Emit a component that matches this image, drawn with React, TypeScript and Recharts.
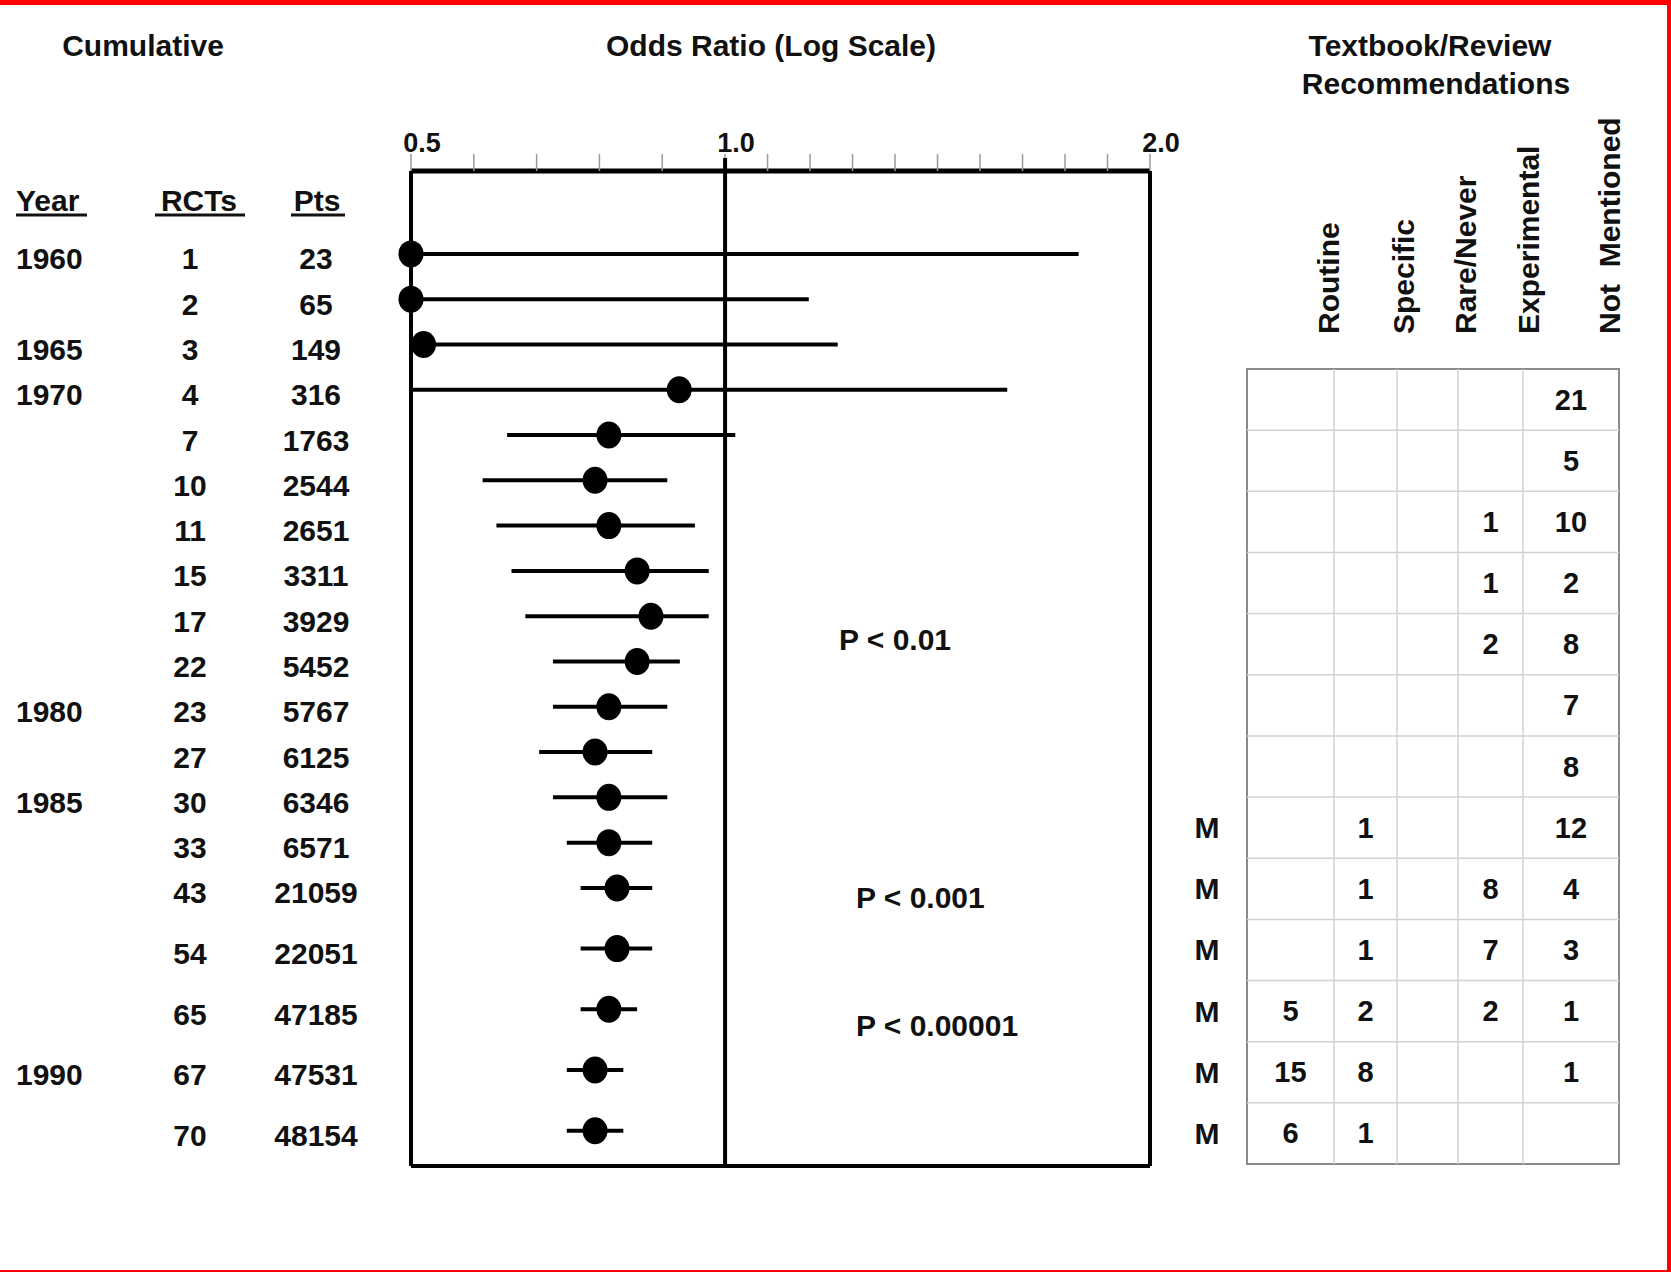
import React from 'react';
import {
    ScatterChart,
    Scatter,
    XAxis,
    YAxis,
    ErrorBar,
    ReferenceLine,
    ReferenceArea,
} from 'recharts';

const FONT = '"Liberation Sans", Arial, Helvetica, sans-serif';
const INK = '#111';

// cumulative trials, oldest first
const YEARS = ['1960', '', '1965', '1970', '', '', '', '', '', '', '1980', '', '1985', '', '', '', '', '1990', ''];
const RCTS = [1, 2, 3, 4, 7, 10, 11, 15, 17, 22, 23, 27, 30, 33, 43, 54, 65, 67, 70];
const PATIENTS = [23, 65, 149, 316, 1763, 2544, 2651, 3311, 3929, 5452, 5767, 6125, 6346, 6571, 21059, 22051, 47185, 47531, 48154];
const ODDS_RATIO = [0.5, 0.5, 0.52, 0.927, 0.815, 0.793, 0.815, 0.86, 0.882, 0.86, 0.815, 0.793, 0.815, 0.815, 0.828, 0.828, 0.815, 0.793, 0.793];
const CI_LOW = [0.5, 0.5, 0.52, 0.5, 0.653, 0.614, 0.636, 0.66, 0.682, 0.726, 0.726, 0.704, 0.726, 0.748, 0.77, 0.77, 0.77, 0.748, 0.748];
const CI_HIGH = [1.832, 1.197, 1.265, 1.664, 1.024, 0.908, 0.952, 0.974, 0.974, 0.928, 0.908, 0.884, 0.908, 0.884, 0.884, 0.884, 0.86, 0.838, 0.838];

// odds ratio axis
const AXIS_TICKS = [0.5, 0.6, 0.7, 0.8, 0.9, 1.0, 1.1, 1.2, 1.3, 1.4, 1.5, 1.6, 1.7, 1.8, 1.9, 2.0];
const AXIS_LABELS = [0.5, 1.0, 2.0];
const SIDE_LABELS = ['Favors Treatment', 'Favors Control'];
const SIDE_AT = [0.756, 1.466];
const P_NOTES = ['P < 0.01', 'P < 0.001', 'P < 0.00001'];

// textbook / review recommendations, one entry per table row
const REC_COLUMNS = ['Routine', 'Specific', 'Rare/Never', 'Experimental', 'Not  Mentioned'];
const ROUTINE = [null, null, null, null, null, null, null, null, null, null, 5, 15, 6];
const SPECIFIC = [null, null, null, null, null, null, null, 1, 1, 1, 2, 8, 1];
const RARE_NEVER = [null, null, null, null, null, null, null, null, null, null, null, null, null];
const EXPERIMENTAL = [null, null, 1, 1, 2, null, null, null, 8, 7, 2, null, null];
const NOT_MENTIONED = [21, 5, 10, 2, 8, 7, 8, 12, 4, 3, 1, 1, null];
const META_ANALYSIS = [false, false, false, false, false, false, false, true, true, true, true, true, true];

// the printed axis is not symmetric: 1.0 sits left of the middle
const LEFT_SHARE = 0.425;
const toAxis = (or: number) =>
    or <= 1 ? (LEFT_SHARE * (or - 0.5)) / 0.5 : LEFT_SHARE + (1 - LEFT_SHARE) * (or - 1);
// last four rows are spaced out a bit more
const rowSlot = (i: number) => (i < 15 ? i : 14 + (i - 14) * 1.34);

const rows = RCTS.map((n, i) => {
    const u = toAxis(ODDS_RATIO[i]);
    return { i, slot: rowSlot(i), u, err: [u - toAxis(CI_LOW[i]), toAxis(CI_HIGH[i]) - u] };
});

const COL_WIDTHS = [87, 63, 61, 65, 96];
const colEdges = COL_WIDTHS.reduce<number[]>((acc, w) => [...acc, acc[acc.length - 1] + w], [0]);
const colCenters = COL_WIDTHS.map((w, c) => colEdges[c] + w / 2);
const tableWidth = colEdges[colEdges.length - 1];
const REC_VALUES = [ROUTINE, SPECIFIC, RARE_NEVER, EXPERIMENTAL, NOT_MENTIONED];
const nRecRows = NOT_MENTIONED.length;
const cells = REC_VALUES.flatMap((col, c) =>
    col.map((v, r) => (v == null ? null : { x: colCenters[c], y: r + 0.5, label: v }))
).filter(Boolean) as { x: number; y: number; label: number }[];

const txt = { fontFamily: FONT, fontWeight: 700, fill: INK } as const;

const OrTick = (props: any) => {
    const { x, y, payload } = props;
    const or = AXIS_TICKS.find(t => Math.abs(toAxis(t) - payload.value) < 1e-9);
    if (or === undefined) return null;
    const showLabel = AXIS_LABELS.includes(or);
    return (
        <g>
            {or === 1 && <line x1={x} x2={x} y1={y + 6} y2={y + 19} stroke="#000" strokeWidth={4} />}
            {showLabel && (
                <text x={x + 11} y={y} textAnchor="middle" fontSize={27} {...txt}>
                    {or.toFixed(1)}
                </text>
            )}
        </g>
    );
};

const SideTick = (props: any) => {
    const { x, y, index } = props;
    return (
        <text x={x} y={y} textAnchor="middle" dominantBaseline="central" fontSize={30} {...txt}>
            {SIDE_LABELS[index]}
        </text>
    );
};

const RowTick = (props: any) => {
    const { y, payload } = props;
    const row = rows.find(r => Math.abs(r.slot - payload.value) < 1e-9);
    if (!row) return null;
    const ty = y + 5;
    return (
        <g fontSize={30} {...txt}>
            <text x={16} y={ty} dominantBaseline="central">{YEARS[row.i]}</text>
            <text x={190} y={ty} textAnchor="middle" dominantBaseline="central">{RCTS[row.i]}</text>
            <text x={316} y={ty} textAnchor="middle" dominantBaseline="central">{PATIENTS[row.i]}</text>
        </g>
    );
};

const HeaderTick = (props: any) => {
    const { x, y, payload } = props;
    const c = colCenters.findIndex(v => Math.abs(v - payload.value) < 1e-9);
    const hx = x + 38;
    return (
        <text
            x={hx}
            y={y}
            transform={`rotate(-90 ${hx} ${y})`}
            textAnchor="start"
            dominantBaseline="central"
            fontSize={30}
            style={{ whiteSpace: 'pre' }}
            {...txt}
        >
            {REC_COLUMNS[c]}
        </text>
    );
};

const MetaTick = (props: any) => {
    const { x, y } = props;
    return (
        <text x={x} y={y} textAnchor="middle" dominantBaseline="central" fontSize={30} {...txt}>
            M
        </text>
    );
};

function ForestPlot() {
    return (
        <ScatterChart width={1180} height={1274} margin={{ top: 100, right: 0, bottom: 48, left: 0 }}>
            <XAxis
                xAxisId="or"
                type="number"
                dataKey="u"
                orientation="top"
                domain={[0, 1]}
                ticks={AXIS_TICKS.map(toAxis)}
                interval={0}
                height={71}
                tickSize={17}
                tickMargin={2}
                tickLine={{ stroke: '#9a9a9a', strokeWidth: 1.5 }}
                axisLine={{ stroke: '#000', strokeWidth: 5 }}
                tick={<OrTick />}
            />
            <XAxis
                xAxisId="side"
                type="number"
                orientation="bottom"
                domain={[0, 1]}
                allowDataOverflow
                ticks={SIDE_AT.map(toAxis)}
                interval={0}
                height={60}
                tickSize={0}
                tickMargin={30}
                tickLine={false}
                axisLine={{ stroke: '#000', strokeWidth: 4 }}
                tick={<SideTick />}
            />
            <YAxis
                yAxisId="rows"
                type="number"
                dataKey="slot"
                domain={[-1.83, 20.14]}
                reversed
                ticks={rows.map(r => r.slot)}
                interval={0}
                width={411}
                tickLine={false}
                axisLine={{ stroke: '#000', strokeWidth: 4 }}
                tick={<RowTick />}
            />
            <YAxis
                yAxisId="edge"
                type="number"
                orientation="right"
                domain={[0, 1]}
                allowDataOverflow
                width={30}
                tick={false}
                tickLine={false}
                axisLine={{ stroke: '#000', strokeWidth: 4 }}
            />
            <ReferenceLine xAxisId="or" yAxisId="rows" x={toAxis(1)} stroke="#000" strokeWidth={4} />
            <Scatter
                xAxisId="or"
                yAxisId="rows"
                data={rows}
                isAnimationActive={false}
                shape={(p: any) => <ellipse cx={p.cx} cy={p.cy} rx={12.5} ry={13.5} fill="#000" />}
            >
                <ErrorBar dataKey="err" direction="x" width={0} stroke="#000" strokeWidth={4} isAnimationActive={false} />
            </Scatter>
        </ScatterChart>
    );
}

function RecommendationTable() {
    return (
        <ScatterChart width={511} height={1274} margin={{ top: 0, right: 52, bottom: 110, left: 0 }}>
            <XAxis
                type="number"
                dataKey="x"
                orientation="top"
                domain={[0, tableWidth]}
                ticks={colCenters}
                interval={0}
                height={369}
                tickSize={0}
                tickMargin={35}
                tickLine={false}
                axisLine={false}
                tick={<HeaderTick />}
            />
            <YAxis
                type="number"
                dataKey="y"
                domain={[0, nRecRows]}
                reversed
                ticks={META_ANALYSIS.map((m, r) => (m ? r + 0.5 : null)).filter(v => v !== null) as number[]}
                interval={0}
                width={87}
                tickSize={0}
                tickMargin={40}
                tickLine={false}
                axisLine={false}
                tick={<MetaTick />}
            />
            {colEdges.slice(1, -1).map(e => (
                <ReferenceLine key={`c${e}`} x={e} stroke="#d2d2d2" strokeWidth={1.5} />
            ))}
            {Array.from({ length: nRecRows - 1 }, (_, k) => k + 1).map(k => (
                <ReferenceLine key={`r${k}`} y={k} stroke="#d2d2d2" strokeWidth={1.5} />
            ))}
            <ReferenceArea x1={0} x2={tableWidth} y1={0} y2={nRecRows} fill="none" stroke="#8a8a8a" strokeWidth={2} />
            <Scatter
                data={cells}
                isAnimationActive={false}
                shape={(p: any) => (
                    <text x={p.cx} y={p.cy} textAnchor="middle" dominantBaseline="central" fontSize={29} {...txt}>
                        {p.payload.label}
                    </text>
                )}
            />
        </ScatterChart>
    );
}

export default function App() {
    return (
        <div style={{ position: 'absolute', left: 0, top: 0, width: 1671, height: 1274, background: '#fff', overflow: 'hidden' }}>
            <svg width={1671} height={1274} style={{ position: 'absolute', left: 0, top: 0 }}>
                <g fontSize={30} {...txt}>
                    <text x={143} y={45} textAnchor="middle" dominantBaseline="central">Cumulative</text>
                    <text x={771} y={45} textAnchor="middle" dominantBaseline="central">Odds Ratio (Log Scale)</text>
                    <text x={1430} y={45} textAnchor="middle" dominantBaseline="central">Textbook/Review</text>
                    <text x={1436} y={83} textAnchor="middle" dominantBaseline="central">Recommendations</text>
                    <text x={16} y={200} dominantBaseline="central">Year</text>
                    <text x={199} y={200} textAnchor="middle" dominantBaseline="central">RCTs</text>
                    <text x={317} y={200} textAnchor="middle" dominantBaseline="central">Pts</text>
                    <text x={839} y={639} dominantBaseline="central">{P_NOTES[0]}</text>
                    <text x={856} y={897} dominantBaseline="central">{P_NOTES[1]}</text>
                    <text x={856} y={1025} dominantBaseline="central">{P_NOTES[2]}</text>
                </g>
                <g stroke={INK} strokeWidth={3}>
                    <line x1={16} x2={87} y1={215} y2={215} />
                    <line x1={155} x2={245} y1={215} y2={215} />
                    <line x1={291} x2={345} y1={215} y2={215} />
                </g>
            </svg>
            <div style={{ position: 'absolute', left: 0, top: 0 }}>
                <ForestPlot />
            </div>
            <div style={{ position: 'absolute', left: 1160, top: 0 }}>
                <RecommendationTable />
            </div>
            <div
                style={{
                    position: 'absolute',
                    left: 0,
                    top: 0,
                    width: 1671,
                    height: 1272,
                    boxSizing: 'border-box',
                    borderTop: '5px solid #f00',
                    borderRight: '4px solid #f00',
                    borderBottom: '2px solid #f00',
                    pointerEvents: 'none',
                }}
            />
        </div>
    );
}
